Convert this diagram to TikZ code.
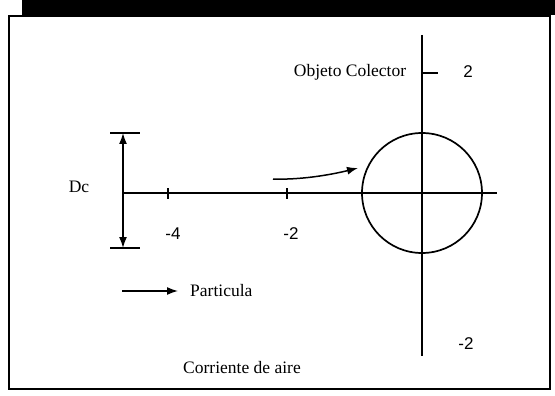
\documentclass[tikz,border=0pt]{standalone}
\usepackage{fontspec}
\setmainfont{Liberation Serif}
\newfontfamily\numfont{Liberation Sans}
\usetikzlibrary{arrows.meta}
\begin{document}
\begin{tikzpicture}[x=1pt,y=-1pt,
  lbl/.style={font=\fontsize{17.5}{20}\selectfont, inner sep=0pt},
  numlbl/.style={font=\numfont\fontsize{17}{20}\selectfont, inner sep=0pt},
  axisline/.style={line width=1.7pt},
  thinline/.style={line width=1.5pt},
  tip/.style={-{Latex[length=11pt,width=8pt]}}]
\useasboundingbox (0,0) rectangle (555,396);
% scanned top band and frame
\fill[black] (22,0) rectangle (555,15);
\draw[line width=1.5pt] (9,16) rectangle (550,389);
% coordinates
\coordinate (xl) at (123,193);
\coordinate (xr) at (497,193);
\coordinate (yt) at (422,35);
\coordinate (yb) at (422,356);
\coordinate (o) at (422,193);
% axes
\draw[axisline] (xl) -- (xr);
\draw[axisline] (yt) -- (yb);
% ticks
\coordinate (t2a) at (422,73); \coordinate (t2b) at (438,73);
\draw[thinline] (t2a) -- (t2b);
\coordinate (tm4a) at (168,188); \coordinate (tm4b) at (168,199);
\coordinate (tm2a) at (287,188); \coordinate (tm2b) at (287,199);
\draw[thinline] (tm4a) -- (tm4b);
\draw[thinline] (tm2a) -- (tm2b);
% collector
\node[circle, draw, line width=1.7pt, minimum size=120pt, inner sep=0pt] (col) at (o) {};
% Dc dimension
\coordinate (dct1) at (110,133); \coordinate (dct2) at (140,133);
\coordinate (dcb1) at (110,248); \coordinate (dcb2) at (140,248);
\coordinate (dctop) at (123,133); \coordinate (dcbot) at (123,248);
\draw[thinline] (dct1) -- (dct2);
\draw[thinline] (dcb1) -- (dcb2);
\draw[thinline, {Latex[length=11pt,width=8pt]}-{Latex[length=11pt,width=8pt]}] (dctop) -- (dcbot);
% particle path
\coordinate (ps) at (273,179);
\coordinate (pe) at (358,168);
\draw[thinline, tip] (ps) .. controls (300,180) and (330,175) .. (pe);
% legend arrow
\coordinate (la) at (122,291);
\coordinate (lb) at (178,291);
\draw[thinline, tip] (la) -- (lb);
% labels
\node[lbl] (objeto) at (350,72) {Objeto Colector};
\node[lbl, anchor=west] (particula) at (190,291) {Particula};
\node[lbl] (corriente) at (242,368) {Corriente de aire};
\node[lbl] (dc) at (79,187) {Dc};
\node[numlbl] (n2) at (468,72) {2};
\node[numlbl] (nm2y) at (466,344) {-2};
\node[numlbl] (nm4) at (173,234) {-4};
\node[numlbl] (nm2x) at (291,234) {-2};
\end{tikzpicture}
\end{document}
